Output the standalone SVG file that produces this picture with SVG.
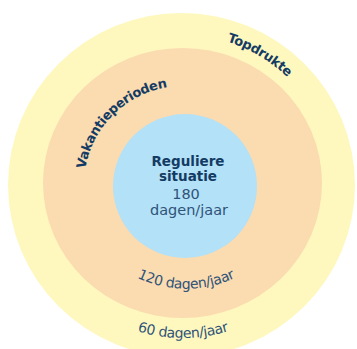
<svg xmlns="http://www.w3.org/2000/svg" width="357" height="349" viewBox="0 0 357 349">
  <style>
    .ring-label { font-family: "DejaVu Sans", "Liberation Sans", sans-serif; font-weight: bold; font-size: 13px; letter-spacing: -0.4px; fill: #143B63; }
    .count { font-family: "DejaVu Sans", "Liberation Sans", sans-serif; font-size: 14px; letter-spacing: -0.4px; fill: #2F5379; }
    .core-title { font-family: "DejaVu Sans", "Liberation Sans", sans-serif; font-weight: bold; font-size: 13.5px; fill: #143B63; text-anchor: middle; }
    .core-text { font-family: "DejaVu Sans", "Liberation Sans", sans-serif; font-size: 14.5px; fill: #2F5379; text-anchor: middle; }
  </style>
  <defs>
    <path id="arc-vakantie" d="M84,185 A99,99 0 0 1 183,86"/>
    <path id="arc-top" d="M209,37.3 A150,150 0 0 1 299.6,90.6"/>
    <path id="arc-120" d="M104.7,255 A115,115 0 0 0 267.3,255"/>
    <path id="arc-60" d="M106.5,317.5 A153,153 0 0 0 259.5,317.5"/>
  </defs>
  <rect width="357" height="349" fill="#FFFFFF"/>
  <g id="topdrukte">
    <ellipse cx="181.5" cy="185" rx="173.5" ry="172" fill="#FEF8BF"/>
    <text class="ring-label"><textPath href="#arc-top" startOffset="50%" text-anchor="middle">Topdrukte</textPath></text>
    <text class="count"><textPath href="#arc-60" startOffset="50%" text-anchor="middle">60 dagen/jaar</textPath></text>
  </g>
  <g id="vakantieperioden">
    <ellipse cx="182.5" cy="183" rx="139.5" ry="135" fill="#FBDBB0"/>
    <text class="ring-label"><textPath href="#arc-vakantie" startOffset="50%" text-anchor="middle">Vakantieperioden</textPath></text>
    <text class="count"><textPath href="#arc-120" startOffset="50%" text-anchor="middle">120 dagen/jaar</textPath></text>
  </g>
  <g id="reguliere-situatie">
    <circle cx="185" cy="186" r="72" fill="#B3E1F7"/>
    <text class="core-title" x="188" y="166">Reguliere</text>
    <text class="core-title" x="188" y="181">situatie</text>
    <text class="core-text" x="186" y="198.5">180</text>
    <text class="core-text" x="189" y="214.5">dagen/jaar</text>
  </g>
</svg>
